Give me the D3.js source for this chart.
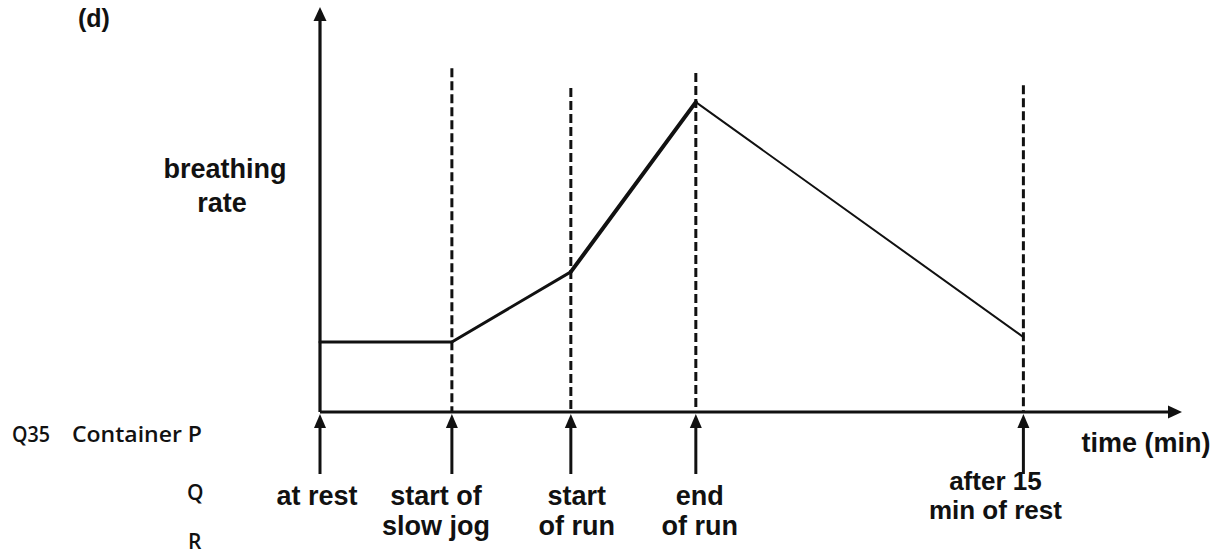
<!DOCTYPE html>
<html>
<head>
<meta charset="utf-8">
<script src="https://cdn.jsdelivr.net/npm/d3@7"></script>
<style>
  html, body { margin: 0; padding: 0; background: #fff; }
  svg { display: block; }
  .lbl { font-family: "Liberation Sans", Arial, sans-serif; font-weight: bold; font-size: 27px; fill: #111; }
  .side { font-family: "Open Sans", "Noto Sans", sans-serif; font-weight: 600; font-size: 21px; fill: #111; }
</style>
</head>
<body>
<svg id="chart" width="1220" height="555"></svg>
<script>
// Stages of the exercise session (time axis markers)
const stages = ["at rest", "start of slow jog", "start of run", "end of run", "after 15 min of rest"];
const stageLines = [["at rest"], ["start of", "slow jog"], ["start", "of run"], ["end", "of run"], ["after 15", "min of rest"]];
// Relative time of each stage (0–100 along the time axis)
const times = [0, 15.3, 29.1, 43.6, 81.6];
// Breathing rate at each stage (0–100 along the vertical axis)
const breathing = [17.3, 17.3, 34.6, 76.5, 18.5];
// Height reached by the dashed guide above each stage (none for "at rest")
const guideTops = [null, 84.9, 80.0, 83.7, 80.7];
// Stroke width of each line segment (between consecutive stages)
const segmentWidths = [3, 3, 4, 2];
// Horizontal nudge, first baseline, line gap and size of each stage label
const labelDx = [-3, -16, 6, 4, -28];
const labelY = [505, 505, 505, 505, 490];
const labelGap = [30, 30, 30, 30, 29];
const labelSize = [27, 27, 27, 27, 26];

const svg = d3.select("#chart");
const x = d3.scaleLinear().domain([0, 100]).range([320, 1182]);
const y = d3.scaleLinear().domain([0, 100]).range([412, 7]);
const ink = "#111";

// Dashed vertical guides
svg.append("g").selectAll("line")
  .data(times.map((t, i) => ({ t, top: guideTops[i] })).filter(d => d.top !== null))
  .join("line")
  .attr("x1", d => x(d.t)).attr("x2", d => x(d.t))
  .attr("y1", d => y(d.top)).attr("y2", y(0))
  .attr("stroke", ink).attr("stroke-width", 3)
  .attr("stroke-dasharray", "9,4");

// Axes with arrowheads
const head = 14, half = 6.5;
svg.append("line")
  .attr("x1", x(0)).attr("x2", x(0)).attr("y1", y(0)).attr("y2", y(100) + head - 2)
  .attr("stroke", ink).attr("stroke-width", 3.2);
svg.append("path")
  .attr("d", `M${x(0)},${y(100)} L${x(0) - half},${y(100) + head} L${x(0) + half},${y(100) + head} Z`)
  .attr("fill", ink);
svg.append("line")
  .attr("x1", x(0)).attr("x2", x(100) - head + 2).attr("y1", y(0)).attr("y2", y(0))
  .attr("stroke", ink).attr("stroke-width", 3.2);
svg.append("path")
  .attr("d", `M${x(100)},${y(0)} L${x(100) - head},${y(0) - half} L${x(100) - head},${y(0) + half} Z`)
  .attr("fill", ink);

// Breathing-rate line, drawn segment by segment
const pts = times.map((t, i) => [x(t), y(breathing[i])]);
const line = d3.line();
svg.append("g").selectAll("path")
  .data(d3.pairs(pts).map((p, i) => ({ p, w: segmentWidths[i] })))
  .join("path")
  .attr("d", d => line(d.p))
  .attr("fill", "none").attr("stroke", ink)
  .attr("stroke-width", d => d.w)
  .attr("stroke-linejoin", "round").attr("stroke-linecap", "round");

// Upward marker arrows under each stage
const arrowLen = 62;
const markers = svg.append("g").selectAll("g").data(times).join("g");
markers.append("line")
  .attr("x1", d => x(d)).attr("x2", d => x(d))
  .attr("y1", y(0) + 10).attr("y2", y(0) + arrowLen)
  .attr("stroke", ink).attr("stroke-width", 3);
markers.append("path")
  .attr("d", d => `M${x(d)},${y(0) + 2} L${x(d) - 6},${y(0) + 16} L${x(d) + 6},${y(0) + 16} Z`)
  .attr("fill", ink);

// Stage labels
const labels = svg.append("g").selectAll("text").data(stages).join("text")
  .attr("class", "lbl").attr("text-anchor", "middle")
  .style("font-size", (d, i) => labelSize[i] + "px")
  .attr("x", (d, i) => x(times[i]) + labelDx[i])
  .attr("y", (d, i) => labelY[i]);
labels.selectAll("tspan").data((d, i) => stageLines[i].map(s => ({ s, i })))
  .join("tspan")
  .attr("x", d => x(times[d.i]) + labelDx[d.i])
  .attr("dy", (d, j) => j === 0 ? 0 : labelGap[d.i])
  .text(d => d.s);

// Axis titles and panel letter
svg.append("text").attr("class", "lbl").attr("text-anchor", "middle")
  .attr("x", 225).attr("y", 178).text("breathing");
svg.append("text").attr("class", "lbl").attr("text-anchor", "middle")
  .attr("x", 222).attr("y", 212).text("rate");
svg.append("text").attr("class", "lbl").attr("text-anchor", "middle")
  .attr("x", 1146).attr("y", 452).text("time (min)");
svg.append("text").attr("class", "lbl").style("font-size", "25px")
  .attr("x", 78).attr("y", 27).text("(d)");

// Side notes
svg.append("text").attr("class", "side").attr("x", 12).attr("y", 442)
  .attr("textLength", 38).attr("lengthAdjust", "spacingAndGlyphs").text("Q35");
svg.append("text").attr("class", "side").attr("x", 72).attr("y", 442)
  .attr("textLength", 130).attr("lengthAdjust", "spacingAndGlyphs").text("Container P");
svg.append("text").attr("class", "side").attr("x", 187).attr("y", 500).text("Q");
svg.append("text").attr("class", "side").attr("x", 188).attr("y", 549).text("R");
</script>
</body>
</html>
